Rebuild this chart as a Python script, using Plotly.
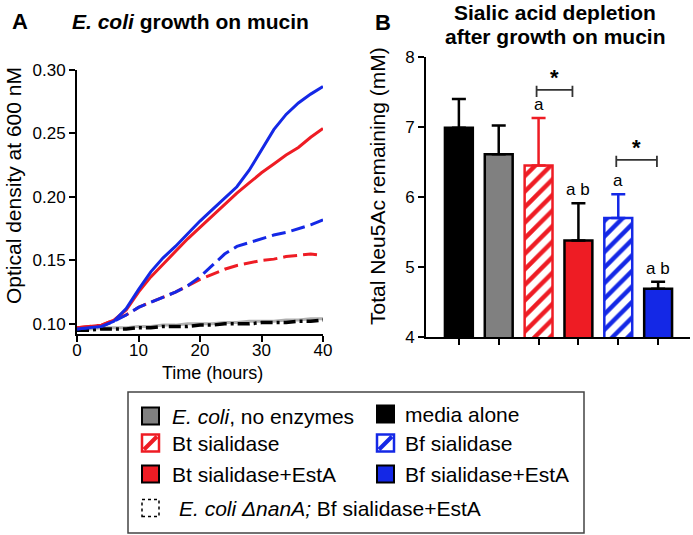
import plotly.graph_objects as go

W, H = 693, 535
FONT = "Liberation Sans, Arial, sans-serif"

# ---------------- Panel A data (OD600 over time) ----------------
time_h = [0, 2, 4, 6, 8, 10, 12, 14, 16, 18, 20, 22, 24, 26, 28, 30, 32, 34, 36, 38, 40]
od_bf_esta = [0.096, 0.097, 0.098, 0.102, 0.112, 0.127, 0.141, 0.152, 0.161, 0.171, 0.181,
              0.190, 0.199, 0.208, 0.221, 0.237, 0.253, 0.265, 0.274, 0.281, 0.287]
od_bt_esta = [0.097, 0.098, 0.099, 0.103, 0.111, 0.125, 0.137, 0.147, 0.157, 0.167, 0.176,
              0.185, 0.194, 0.203, 0.211, 0.219, 0.226, 0.233, 0.239, 0.247, 0.254]
od_bf = [0.096, 0.097, 0.098, 0.102, 0.107, 0.113, 0.117, 0.121, 0.125, 0.130, 0.137,
         0.146, 0.155, 0.161, 0.164, 0.167, 0.170, 0.172, 0.175, 0.178, 0.182]
od_bt = [0.097, 0.098, 0.099, 0.103, 0.107, 0.113, 0.117, 0.121, 0.125, 0.130, 0.135,
         0.139, 0.143, 0.146, 0.148, 0.150, 0.151, 0.153, 0.154, 0.155, 0.154]
od_nanA = [0.096, 0.096, 0.097, 0.097, 0.097, 0.098, 0.098, 0.099, 0.099, 0.100, 0.100,
           0.100, 0.101, 0.101, 0.102, 0.102, 0.102, 0.103, 0.103, 0.104, 0.104]
od_noenz = [0.095, 0.095, 0.096, 0.096, 0.096, 0.097, 0.097, 0.098, 0.098, 0.098, 0.099,
            0.099, 0.100, 0.100, 0.100, 0.101, 0.101, 0.101, 0.102, 0.102, 0.103]
a_xticks = [0, 10, 20, 30, 40]
a_yticks = [0.10, 0.15, 0.20, 0.25, 0.30]

# ---------------- Panel B data (Neu5Ac remaining) ----------------
groups = ["media alone", "E. coli, no enzymes", "Bt sialidase", "Bt sialidase+EstA",
          "Bf sialidase", "Bf sialidase+EstA"]
neu5ac_mean = [6.99, 6.61, 6.45, 5.38, 5.70, 4.69]
neu5ac_err = [0.41, 0.41, 0.68, 0.53, 0.34, 0.10]
sig_letters = ["", "", "a", "a b", "a", "a b"]
sig_pairs = [(2, 3), (4, 5)]
b_yticks = [4, 5, 6, 7, 8]

# ---------------- styles ----------------
RED = "#ee1c24"
BLUE = "#1428e6"
GRAY = "#808080"
bar_styles = [
    dict(color="black", line="black", pattern=None, err="black"),
    dict(color=GRAY, line="black", pattern=None, err="black"),
    dict(color="white", line=RED, pattern=RED, err=RED),
    dict(color=RED, line="black", pattern=None, err="black"),
    dict(color="white", line=BLUE, pattern=BLUE, err=BLUE),
    dict(color=BLUE, line="black", pattern=None, err="black"),
]


def px(x):
    return x / W


def py(y):
    return 1 - y / H


fig = go.Figure()

# Panel A lines
fig.add_trace(go.Scatter(x=time_h, y=od_nanA, mode="lines",
                         line=dict(color="#b0b0b0", width=3), xaxis="x", yaxis="y"))
fig.add_trace(go.Scatter(x=time_h, y=od_noenz, mode="lines",
                         line=dict(color="black", width=3.5, dash="12px,4px,3px,4px"),
                         xaxis="x", yaxis="y"))
fig.add_trace(go.Scatter(x=time_h, y=od_bt, mode="lines",
                         line=dict(color=RED, width=3, dash="14px,6px"), xaxis="x", yaxis="y"))
fig.add_trace(go.Scatter(x=time_h, y=od_bf, mode="lines",
                         line=dict(color=BLUE, width=3, dash="14px,6px"), xaxis="x", yaxis="y"))
fig.add_trace(go.Scatter(x=time_h, y=od_bt_esta, mode="lines",
                         line=dict(color=RED, width=3), xaxis="x", yaxis="y"))
fig.add_trace(go.Scatter(x=time_h, y=od_bf_esta, mode="lines",
                         line=dict(color=BLUE, width=3), xaxis="x", yaxis="y"))

# Panel B bars
for g, m, e, st in zip(groups, neu5ac_mean, neu5ac_err, bar_styles):
    marker = dict(color=st["color"], line=dict(color=st["line"], width=2.5))
    if st["pattern"]:
        marker["pattern"] = dict(shape="/", fgcolor=st["pattern"], bgcolor="white",
                                 fgopacity=1, size=11, solidity=0.4)
    fig.add_trace(go.Bar(x=[g], y=[m], width=0.7, marker=marker,
                         error_y=dict(type="data", array=[e], arrayminus=[0], symmetric=False,
                                      color=st["err"], thickness=2.5, width=7),
                         xaxis="x2", yaxis="y2"))

annotations = []
shapes = []

# letters above bars
for g, m, e, s in zip(groups, neu5ac_mean, neu5ac_err, sig_letters):
    if s:
        annotations.append(dict(x=g, y=m + e, xref="x2", yref="y2", text=s, showarrow=False,
                                yanchor="bottom", yshift=2, font=dict(size=17, color="black")))

# significance brackets
bracket_levels = [7.53, 6.53]
bracket_x = [(1.95, 2.85), (3.95, 4.97)]
for (i, j), lvl, (xa, xb) in zip(sig_pairs, bracket_levels, bracket_x):
    shapes.append(dict(type="path", xref="x2", yref="y2",
                       path=f"M {xa},{lvl + 0.06} L {xa},{lvl - 0.1} M {xa},{lvl} L {xb},{lvl} "
                            f"M {xb},{lvl + 0.06} L {xb},{lvl - 0.1}",
                       line=dict(color="#333333", width=1.8)))
    annotations.append(dict(x=(xa + xb) / 2, y=lvl, xref="x2", yref="y2", text="<b>*</b>",
                            showarrow=False, yanchor="bottom", yshift=-2,
                            font=dict(size=22, color="black")))

# titles and axis titles
def paper_text(x, y, text, size, bold=False, angle=0, xanchor="center"):
    annotations.append(dict(x=px(x), y=py(y), xref="paper", yref="paper",
                            text=f"<b>{text}</b>" if bold else text, showarrow=False,
                            xanchor=xanchor, yanchor="middle", textangle=angle,
                            font=dict(size=size, color="black", family=FONT)))


paper_text(20, 21, "A", 22, bold=True)
paper_text(191, 21, "<i>E. coli</i> growth on mucin", 21, bold=True)
paper_text(383, 22, "B", 22, bold=True)
paper_text(555, 13, "Sialic acid depletion", 21, bold=True)
paper_text(555, 36, "after growth on mucin", 21, bold=True)
paper_text(14, 186, "Optical density at 600 nM", 21, angle=-90)
paper_text(213, 373, "Time (hours)", 18)
paper_text(378, 186, "Total Neu5Ac remaining (mM)", 21, angle=-90)

# legend box
shapes.append(dict(type="rect", xref="paper", yref="paper", x0=px(128), x1=px(584),
                   y0=py(533), y1=py(392), line=dict(color="#444444", width=1.5)))

legend_items = [
    ("<i>E. coli</i>, no enzymes", "solid", GRAY, 142, 170, 416),
    ("Bt sialidase", "hatch", RED, 142, 170, 443),
    ("Bt sialidase+EstA", "solid", RED, 142, 170, 474),
    ("<i>E. coli ΔnanA;</i> Bf sialidase+EstA", "dotted", "black", 142, 177, 508),
    ("media alone", "solid", "black", 377, 403, 414),
    ("Bf sialidase", "hatch", BLUE, 377, 403, 443),
    ("Bf sialidase+EstA", "solid", BLUE, 377, 403, 474),
]
S = 17
for text, kind, col, sx, tx, cy in legend_items:
    x0, x1, y0, y1 = sx, sx + S, cy - S / 2, cy + S / 2
    if kind == "solid":
        shapes.append(dict(type="rect", xref="paper", yref="paper", x0=px(x0), x1=px(x1),
                           y0=py(y1), y1=py(y0), fillcolor=col, line=dict(color="black", width=2)))
    elif kind == "hatch":
        shapes.append(dict(type="rect", xref="paper", yref="paper", x0=px(x0), x1=px(x1),
                           y0=py(y1), y1=py(y0), fillcolor="white", line=dict(color=col, width=2.5)))
        shapes.append(dict(type="path", xref="paper", yref="paper",
                           path=f"M {px(x0 + 2)},{py(y1 - 2)} L {px(x1 - 2)},{py(y0 + 2)}",
                           line=dict(color=col, width=4)))
    else:
        shapes.append(dict(type="rect", xref="paper", yref="paper", x0=px(x0), x1=px(x1),
                           y0=py(y1), y1=py(y0), fillcolor="white",
                           line=dict(color="black", width=1.5, dash="dot")))
    paper_text(tx, cy, text, 21, xanchor="left")

axis_common = dict(showline=True, linecolor="black", linewidth=2, ticks="outside",
                   ticklen=6, tickwidth=2, tickcolor="black", showgrid=False, zeroline=False,
                   automargin=False,
                   tickfont=dict(size=17, color="black", family=FONT))

fig.update_layout(
    template="none",
    width=W, height=H, autosize=False,
    margin=dict(l=0, r=0, t=0, b=0, pad=0, autoexpand=False),
    paper_bgcolor="white", plot_bgcolor="white", showlegend=False,
    font=dict(family=FONT, color="black"),
    xaxis=dict(domain=[px(77), px(323)], range=[0, 40], tickvals=a_xticks,
               ticklabelstandoff=-6, anchor="y", **axis_common),
    yaxis=dict(domain=[py(334), py(70)], range=[0.092, 0.30], tickvals=a_yticks,
               tickformat=".2f", anchor="x", **axis_common),
    xaxis2=dict(domain=[px(426), px(690)], range=[-0.825, 5.8], type="category",
                showticklabels=False, anchor="y2", **axis_common),
    yaxis2=dict(domain=[py(337), py(57)], range=[4, 8], tickvals=b_yticks,
                anchor="x2", **axis_common),
    annotations=annotations, shapes=shapes,
)

fig.write_html("out.html", config={"displayModeBar": False},
               post_script="document.body.style.margin='0';document.body.style.overflow='hidden';")
